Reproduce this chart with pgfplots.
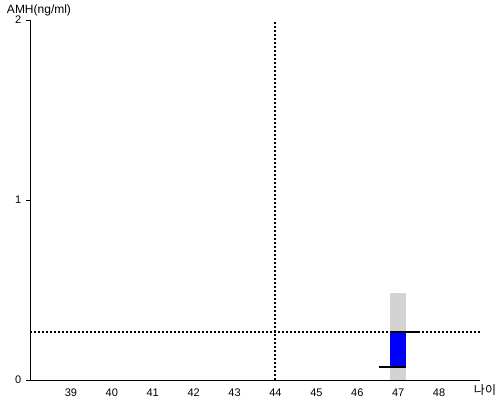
\documentclass[border=0pt]{standalone}
\usepackage{fontspec}
\setmainfont{Liberation Sans}
\newfontfamily\cjk{Noto Sans CJK KR}
\usepackage{pgfplots}
\pgfplotsset{compat=1.18}
\definecolor{bargray}{RGB}{211,211,211}
\begin{document}
\fontsize{11}{13}\selectfont
\begin{tikzpicture}[x=1pt,y=1pt]
\path[use as bounding box] (0,0) rectangle (500,400);
\begin{axis}[
  at={(30pt,20pt)}, anchor=south west,
  scale only axis, width=450pt, height=360pt,
  xmin=38, xmax=49, ymin=0, ymax=2,
  axis lines=left, axis line style={-, line width=1pt, black},
  xtick={39,...,48}, ytick={0,1,2},
  x tick style={draw=none},
  y tick style={line width=0.8pt, black},
  tick align=outside, major tick length=4pt,
  yticklabel style={xshift=-1pt},
  xticklabel style={yshift=-1pt},
  tick label style={font=\fontsize{11}{13}\selectfont},
  /pgf/number format/assume math mode=true,
  clip=false,
]
\addplot[black, line width=2pt, dash pattern=on 2pt off 2pt] coordinates {(38,0.267) (49,0.267)};
\addplot[black, line width=2pt, dash pattern=on 2pt off 2pt] coordinates {(44,0) (44,2)};
\addplot[fill=bargray, draw=none] coordinates {(46.8,0) (46.8,0.483) (47.2,0.483) (47.2,0)} -- cycle;
\addplot[fill=blue, draw=none] coordinates {(46.8,0.072) (46.8,0.267) (47.2,0.267) (47.2,0.072)} -- cycle;
\addplot[black, line width=2pt] coordinates {(46.52,0.072) (47.2,0.072)};
\addplot[black, line width=2pt] coordinates {(46.8,0.267) (47.53,0.267)};
\end{axis}
\node[anchor=center, inner sep=0pt] at (39,390) {\fontsize{12}{14}\selectfont AMH(ng/ml)};
\node[anchor=center, inner sep=0pt] at (485,10) {\cjk\fontsize{12}{14}\selectfont 나이};
\end{tikzpicture}
\end{document}
